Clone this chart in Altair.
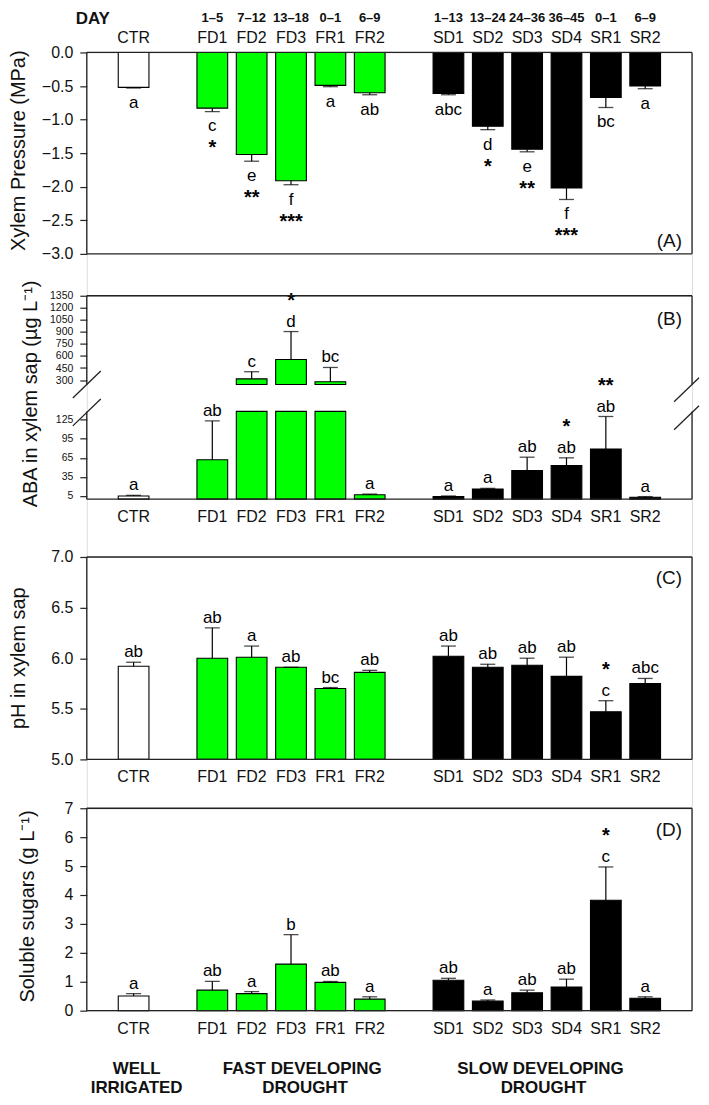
import altair as alt
import pandas as pd

FONT = "Liberation Sans"

cats = ["CTR", "FD1", "FD2", "FD3", "FR1", "FR2", "SD1", "SD2", "SD3", "SD4", "SR1", "SR2"]
groups = ["WI", "FD", "FD", "FD", "FD", "FD", "SD", "SD", "SD", "SD", "SD", "SD"]
days = ["", "1–5", "7–12", "13–18", "0–1", "6–9", "1–13", "13–24", "24–36", "36–45", "0–1", "6–9"]
x_order = ["CTR", "gap1", "FD1", "FD2", "FD3", "FR1", "FR2", "gap2",
           "SD1", "SD2", "SD3", "SD4", "SR1", "SR2"]

psi_mean = [-0.52, -0.83, -1.52, -1.91, -0.49, -0.60, -0.61, -1.10, -1.44, -2.02, -0.67, -0.50]
psi_se = [0.01, 0.05, 0.10, 0.06, 0.02, 0.03, 0.02, 0.05, 0.04, 0.17, 0.15, 0.04]
psi_letters = ["a", "c", "e", "f", "a", "ab", "abc", "d", "e", "f", "bc", "a"]
psi_stars = ["", "*", "**", "***", "", "", "", "*", "**", "***", "", ""]

aba_mean = [5, 62, 315, 557, 280, 7, 4, 16, 45, 53, 79, 3]
aba_se = [1, 61, 89, 347, 177, 1, 1, 1, 21, 12, 51, 1]
aba_letters = ["a", "ab", "c", "d", "bc", "a", "a", "a", "ab", "ab", "ab", "a"]
aba_stars = ["", "", "", "*", "", "", "", "", "", "*", "**", ""]

ph_mean = [5.92, 6.00, 6.01, 5.91, 5.70, 5.86, 6.02, 5.91, 5.93, 5.82, 5.47, 5.75]
ph_se = [0.04, 0.30, 0.11, 0.0, 0.01, 0.02, 0.10, 0.03, 0.07, 0.19, 0.11, 0.05]
ph_letters = ["ab", "ab", "a", "ab", "bc", "ab", "ab", "ab", "ab", "ab", "c", "abc"]
ph_stars = ["", "", "", "", "", "", "", "", "", "", "*", ""]

sug_mean = [0.51, 0.71, 0.59, 1.61, 0.98, 0.40, 1.05, 0.33, 0.62, 0.82, 3.82, 0.43]
sug_se = [0.08, 0.30, 0.07, 1.02, 0.03, 0.08, 0.07, 0.04, 0.09, 0.27, 1.15, 0.05]
sug_letters = ["a", "ab", "a", "b", "ab", "a", "ab", "a", "ab", "ab", "c", "a"]
sug_stars = ["", "", "", "", "", "", "", "", "", "", "*", ""]

aba_ticks = [5, 35, 65, 95, 125, 300, 450, 600, 750, 900, 1050, 1200, 1350]
ABA_BREAK = (138, 245)

W = 607
one = pd.DataFrame({"k": [0]})
LINE = "#222222"
TXT = "#111111"

x_enc = alt.X("cat:N", scale=alt.Scale(domain=x_order, paddingInner=0.22, paddingOuter=0.8), axis=None)
color_enc = alt.Color("grp:N", scale=alt.Scale(domain=["WI", "FD", "SD"],
                                               range=["#ffffff", "#00ff00", "#000000"]), legend=None)


def make_panel(mean, se, letters, stars, *, ydom, yrng, plot_h, ticks, fmt, title,
               title_x, title_y, tick_font, down, base, plabel, plabel_y, top_labels=False,
               bottom_labels=True, brk=None):
    df = pd.DataFrame({"cat": cats, "grp": groups, "v": mean, "se": se,
                       "let": letters, "star": stars, "day": days})
    df["e"] = df["v"] - df["se"] if down else df["v"] + df["se"]

    rows = []
    for c, g, v in zip(cats, groups, mean):
        if brk is None:
            rows.append({"cat": c, "grp": g, "y0": base, "y1": v})
        else:
            rows.append({"cat": c, "grp": g, "y0": base, "y1": min(v, brk[0])})
            if v > brk[1]:
                rows.append({"cat": c, "grp": g, "y0": brk[1], "y1": v})
    bdf = pd.DataFrame(rows)

    yscale = alt.Scale(domain=ydom, range=yrng, nice=False, zero=False)
    yaxis = alt.Axis(values=ticks, tickCount=40, format=fmt, title=title, titleX=title_x,
                     titleY=title_y, titleAngle=270, titleAlign="center", titleBaseline="middle",
                     titleFontSize=20, titleFontWeight="normal", titleColor=TXT,
                     domain=False, grid=False, tickSize=7, tickColor=LINE, tickWidth=1.2,
                     labelPadding=7, labelFontSize=tick_font, labelColor=TXT, labelFont=FONT,
                     labelOverlap=False, labelFlush=False, labelBound=False, titleFont=FONT)

    def Y(f):
        return alt.Y(f"{f}:Q", scale=yscale, axis=yaxis)

    layers = []
    layers.append(alt.Chart(bdf).mark_bar(stroke="black", strokeWidth=1.1).encode(
        x=x_enc, y=Y("y0"), y2=alt.Y2("y1:Q"), color=color_enc))
    layers.append(alt.Chart(df).mark_rule(color="black", strokeWidth=1.2).encode(
        x=x_enc, y=Y("v"), y2=alt.Y2("e:Q")))
    layers.append(alt.Chart(df).mark_tick(color="black", thickness=1.3, size=15).encode(
        x=x_enc, y=Y("e")))
    layers.append(alt.Chart(df).mark_text(fontSize=17, font=FONT, baseline="alphabetic",
                                          dy=20 if down else -5, color="black").encode(
        x=x_enc, y=Y("e"), text="let:N"))
    layers.append(alt.Chart(df).mark_text(fontSize=20, font=FONT, fontWeight="bold",
                                          baseline="alphabetic", dy=43 if down else -25,
                                          color="black").encode(
        x=x_enc, y=Y("e"), text="star:N"))

    # frame
    ytop, ybot = ydom[-1], ydom[0]
    layers.append(alt.Chart(one).mark_rule(color=LINE, strokeWidth=1.3).encode(
        x=alt.value(0), x2=alt.value(W), y=alt.datum(ytop)))
    layers.append(alt.Chart(one).mark_rule(color=LINE, strokeWidth=1.3).encode(
        x=alt.value(0), x2=alt.value(W), y=alt.datum(ybot)))
    if brk is None:
        segs = [(ybot, ytop)]
    else:
        segs = [(ybot, brk[0]), (brk[1], ytop)]
    for xv in (0, W):
        for s0, s1 in segs:
            layers.append(alt.Chart(one).mark_rule(color=LINE, strokeWidth=1.3).encode(
                x=alt.value(xv), y=alt.datum(s0), y2=alt.datum(s1)))

    if top_labels:
        layers.append(alt.Chart(df).mark_text(fontSize=16, font=FONT, baseline="middle",
                                              dy=-14, color=TXT).encode(
            x=x_enc, y=alt.datum(ytop), text="cat:N"))
        layers.append(alt.Chart(df).mark_text(fontSize=13, font=FONT, fontWeight="bold",
                                              baseline="middle", dy=-35, color=TXT).encode(
            x=x_enc, y=alt.datum(ytop), text="day:N"))
        layers.append(alt.Chart(one).mark_text(text="DAY", fontSize=17, font=FONT,
                                               fontWeight="bold", baseline="middle",
                                               align="center", color=TXT).encode(
            x=alt.value(6), y=alt.value(-33.5)))
    if bottom_labels:
        layers.append(alt.Chart(df).mark_text(fontSize=16, font=FONT, baseline="middle",
                                              dy=18, color=TXT).encode(
            x=x_enc, y=alt.datum(ybot), text="cat:N"))

    layers.append(alt.Chart(one).mark_text(text=plabel, fontSize=19, font=FONT, align="right",
                                           baseline="middle", color=TXT).encode(
        x=alt.value(W - 10), y=alt.value(plabel_y)))
    return layers


A = alt.layer(*make_panel(psi_mean, psi_se, psi_letters, psi_stars,
                          ydom=[-3.0, 0.0], yrng=[202, 0], plot_h=202,
                          ticks=[0, -0.5, -1.0, -1.5, -2.0, -2.5, -3.0], fmt=".1f",
                          title="Xylem Pressure (MPa)", title_x=-68, title_y=98, tick_font=16,
                          down=True, base=0, plabel="(A)", plabel_y=189, top_labels=True,
                          bottom_labels=False)).properties(width=W, height=244)

blayers = make_panel(aba_mean, aba_se, aba_letters, aba_stars,
                     ydom=[0, ABA_BREAK[0], ABA_BREAK[1], 1350], yrng=[204, 116, 89, 0],
                     plot_h=204, ticks=aba_ticks, fmt="d",
                     title="ABA in xylem sap (µg L⁻¹)", title_x=-56, title_y=98, tick_font=10.5,
                     down=False, base=0, plabel="(B)", plabel_y=23, brk=ABA_BREAK)
slashes = []
for cx, left_ext, right_ext in ((0, 14, 14), (W, 18, 7)):
    for cy in (89, 117):
        slashes.append(alt.Chart(one).mark_rule(color=LINE, strokeWidth=1.3).encode(
            x=alt.value(cx - left_ext), x2=alt.value(cx + right_ext),
            y=alt.value(cy + 13.5 * left_ext / 14), y2=alt.value(cy - 13.5 * right_ext / 14)))
B = alt.layer(*(blayers + slashes)).properties(width=W, height=262)

C = alt.layer(*make_panel(ph_mean, ph_se, ph_letters, ph_stars,
                          ydom=[5.0, 7.0], yrng=[203, 0], plot_h=203,
                          ticks=[5.0, 5.5, 6.0, 6.5, 7.0], fmt=".1f",
                          title="pH in xylem sap", title_x=-68, title_y=101, tick_font=16,
                          down=False, base=5.0, plabel="(C)", plabel_y=21)
              ).properties(width=W, height=252)

dlayers = make_panel(sug_mean, sug_se, sug_letters, sug_stars,
                     ydom=[0, 7], yrng=[203, 0], plot_h=203,
                     ticks=[0, 1, 2, 3, 4, 5, 6, 7], fmt="d",
                     title="Soluble sugars  (g L⁻¹)", title_x=-59, title_y=98, tick_font=16,
                     down=False, base=0, plabel="(D)", plabel_y=22)
grp_text = []
for txt, px, py in [("WELL", 50, 262), ("IRRIGATED", 50, 281),
                    ("FAST  DEVELOPING", 216, 262), ("DROUGHT", 219, 281),
                    ("SLOW  DEVELOPING", 455, 262), ("DROUGHT", 458, 281)]:
    grp_text.append(alt.Chart(one).mark_text(text=txt, fontSize=17, font=FONT, fontWeight="bold",
                                             align="center", baseline="middle", color=TXT).encode(
        x=alt.value(px), y=alt.value(py)))
D = alt.layer(*(dlayers + grp_text)).properties(width=W, height=203)

chart = alt.vconcat(A, B, C, D, spacing=0, bounds="flush").properties(
    padding={"left": 0, "top": 0, "right": 0, "bottom": 0}
).configure_view(stroke=None).configure(font=FONT)

chart.save("out.html", embed_options={"renderer": "svg", "actions": False})
